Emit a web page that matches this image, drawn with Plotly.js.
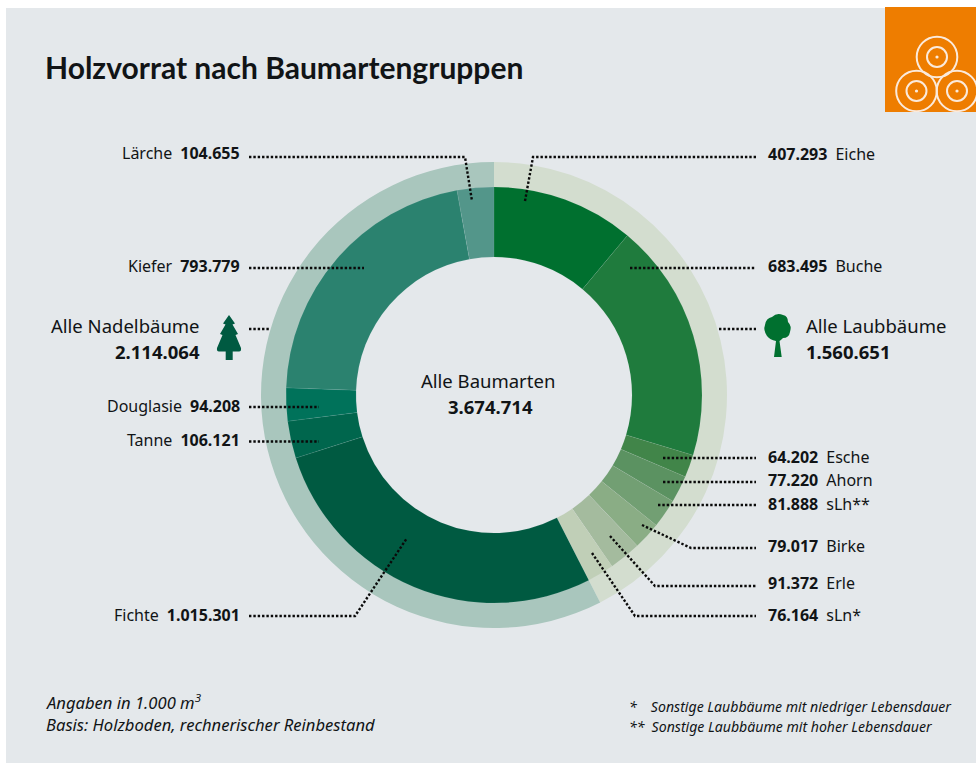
<!DOCTYPE html>
<html><head><meta charset="utf-8">
<script src="https://cdn.plot.ly/plotly-3.0.1.min.js"></script>
<style>html,body{margin:0;padding:0;background:#fff;overflow:hidden}#c{width:976px;height:763px}</style>
</head><body><div id="c"></div>
<script>
// ---- data ----
var groupNames = ['Alle Laubbäume', 'Alle Nadelbäume'];
var groupValues = [1560651, 2114064];
var totalValue = 3674714;
var speciesNames = ['Eiche','Buche','Esche','Ahorn','sLh**','Birke','Erle','sLn*','Fichte','Tanne','Douglasie','Kiefer','Lärche'];
var speciesValues = [407293,683495,64202,77220,81888,79017,91372,76164,1015301,106121,94208,793779,104655];

// ---- styles ----
var groupColors = ['#d3ddcf','#a9c6bd'];
var speciesColors = ['#00702f','#1f7b3d','#418549','#5b9261','#729f73','#8aad85','#a4bb9e','#c0cfb7','#005a41','#00664d','#00725a','#2b826f','#53968a'];
var W = 976, H = 763, CX = 494, CY = 395, R_OUT = 233, R_IN = 208, R_HOLE = 138;
var FONT = '"Noto Sans", Lato, sans-serif', TITLE_FONT = 'Lato, "Noto Sans", sans-serif', INK = '#111416';
function px(x){return x/W;} function py(y){return 1-y/H;}
function fmt(v){return String(v).replace(/\B(?=(\d{3})+$)/g,'.');}
function dom(r){return {x:[px(CX-r),px(CX+r)],y:[py(CY+r),py(CY-r)]};}

var traces = [
 {type:'pie',labels:groupNames,values:groupValues,sort:false,direction:'clockwise',rotation:0,hole:0.8,
  domain:dom(R_OUT),textinfo:'none',hoverinfo:'label+value',showlegend:false,marker:{colors:groupColors,line:{width:0}}},
 {type:'pie',labels:speciesNames,values:speciesValues,sort:false,direction:'clockwise',rotation:0,hole:R_HOLE/R_IN,
  domain:dom(R_IN),textinfo:'none',hoverinfo:'label+value',showlegend:false,
  marker:{colors:speciesColors,line:{width:0.5,color:'rgba(228,232,235,0.15)'}}}
];

// ---- annotations ----
var ann = [];
function T(x,y,text,size,anchor,family){
  ann.push({xref:'paper',yref:'paper',x:px(x),y:py(y),text:text,showarrow:false,xanchor:anchor||'left',yanchor:'middle',
    align:anchor||'left',borderpad:0,font:{family:family||FONT,size:size,color:INK}});
}
var SP='\u2002';
function idx(n){return speciesNames.indexOf(n);}
var leftLabels = [['Lärche',153],['Kiefer',266],['Douglasie',406],['Tanne',440],['Fichte',615]];
var rightLabels = [['Eiche',154],['Buche',266],['Esche',457],['Ahorn',480],['sLh**',504],['Birke',546],['Erle',583],['sLn*',615]];
leftLabels.forEach(function(l){T(241,l[1],l[0]+SP+'<b>'+fmt(speciesValues[idx(l[0])])+'</b>',16,'right');});
rightLabels.forEach(function(l){T(766.5,l[1],'<b>'+fmt(speciesValues[idx(l[0])])+'</b>'+SP+l[0],16,'left');});

T(44,67,'<b>Holzvorrat nach Baumartengruppen</b>',30,'left',TITLE_FONT);
T(487.5,380,'Alle Baumarten',18.5,'center');
T(490,406,'<b>'+fmt(totalValue)+'</b>',18.5,'center');
T(201,325,groupNames[1],18.5,'right');
T(201,352,'<b>'+fmt(groupValues[1])+'</b>',18.5,'right');
T(805,325,groupNames[0],18.5,'left');
T(805,352,'<b>'+fmt(groupValues[0])+'</b>',18.5,'left');
T(45,702,'<i>Angaben in 1.000 m<sup>3</sup></i>',16.6,'left');
T(45,724,'<i>Basis: Holzboden, rechnerischer Reinbestand</i>',16.6,'left');
T(627.5,706,'<i>*\u2003Sonstige Laubbäume mit niedriger Lebensdauer</i>',14.1,'left');
T(627.5,726,'<i>**\u2002Sonstige Laubbäume mit hoher Lebensdauer</i>',14.1,'left');

// ---- shapes ----
function path(cmds){
  return cmds.map(function(c){
    var s=c[0];
    for(var i=1;i<c.length;i+=2) s+=(i>1?' ':'')+px(c[i])+','+py(c[i+1])+' ';
    return s;
  }).join(' ');
}
var shapes = [
 {type:'rect',xref:'paper',yref:'paper',x0:px(6),x1:1,y0:0,y1:py(8),fillcolor:'#e4e8eb',line:{width:0},layer:'below'},
 {type:'rect',xref:'paper',yref:'paper',x0:px(885),x1:1,y0:py(112),y1:py(7),fillcolor:'#ee7d00',line:{width:0},layer:'below'}
];
function circle(cx,cy,r,fill,lw){
  shapes.push({type:'circle',xref:'paper',yref:'paper',x0:px(cx-r),x1:px(cx+r),y0:py(cy+r),y1:py(cy-r),
    fillcolor:fill?'#fbeadb':'rgba(0,0,0,0)',line:{width:lw,color:'#fbeadb'},layer:'above'});
}
[[937,57],[916.5,91],[957,91]].forEach(function(c){circle(c[0],c[1],20.3,false,2);circle(c[0],c[1],10,false,2);circle(c[0],c[1],1.6,true,0);});

var leaders = [
 [[249,157],[465,157],[472,201]],
 [[525,201],[533,157],[756,157]],
 [[249,268],[364,268]],
 [[630,268],[756,268]],
 [[249,329],[270,329]],
 [[719,329],[756,329]],
 [[249,407],[319,407]],
 [[249,441.5],[319,441.5]],
 [[249,616],[355,616],[407,538]],
 [[663,458],[756,458]],
 [[663,482],[756,482]],
 [[658,505],[756,505]],
 [[642,525],[691,548],[756,548]],
 [[610,536],[655,586],[756,586]],
 [[592,553],[635,616],[756,616]]
];
leaders.forEach(function(p){
  shapes.push({type:'path',xref:'paper',yref:'paper',layer:'above',
    path:path(p.map(function(q,i){return [i?'L':'M',q[0],q[1]];})),
    line:{color:'#0a0a0a',width:2.4,dash:'2.4px,1.95px'},fillcolor:'rgba(0,0,0,0)'});
});
// conifer icon
shapes.push({type:'path',xref:'paper',yref:'paper',layer:'above',fillcolor:'#005a41',line:{width:0},
  path:path([['M',229,315],['L',235,323.5],['L',232.5,324.5],['L',238,334],['L',235.5,335],['L',241,348],['Q',241.5,351.5,239,351.5],['L',232.7,351.5],['L',232.7,360],['L',225.7,360],['L',225.7,351.5],['L',219,351.5],['Q',216.5,351.5,217,348],['L',222.5,335],['L',220,334],['L',225.5,324.5],['L',223,323.5],['Z']])});
// deciduous icon
shapes.push({type:'path',xref:'paper',yref:'paper',layer:'above',fillcolor:'#00702f',line:{width:0},
  path:path([['M',772,317],['Q',777,312,783,315],['Q',788,316,788,322],['Q',792,326,790,332],['Q',789,338,783,338],['Q',780.5,340.5,779.5,341],['L',781.7,357],['L',774,357],['L',776,341],['Q',770,340,767,336],['Q',763,330,765,325],['Q',766,318,772,317],['Z']])});

Plotly.newPlot('c',traces,{
  width:W,height:H,margin:{l:0,r:0,t:0,b:0,pad:0},paper_bgcolor:'#ffffff',plot_bgcolor:'rgba(0,0,0,0)',
  showlegend:false,annotations:ann,shapes:shapes,font:{family:FONT}
},{displayModeBar:false,staticPlot:true});
</script></body></html>
